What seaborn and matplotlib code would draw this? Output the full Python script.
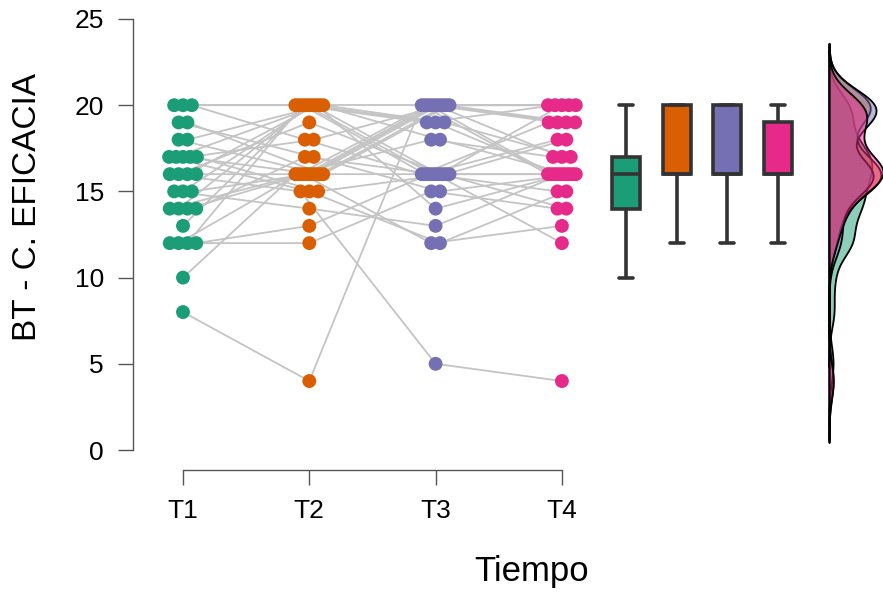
import numpy as np
import pandas as pd
import matplotlib
matplotlib.use("Agg")
import matplotlib.pyplot as plt
import seaborn as sns

# ---------------- data (one entry per subject) ----------------
times = ["T1", "T2", "T3", "T4"]
t1 = [8, 10, 16, 12, 20, 20, 20, 12, 12, 12, 13, 14, 14, 14, 14,
      15, 15, 15, 16, 16, 16, 17, 17, 17, 17, 17, 18, 18, 19, 19]
t2 = [4, 16, 15, 12, 20, 20, 18, 16, 20, 13, 20, 16, 20, 16, 17,
      14, 20, 16, 19, 20, 16, 15, 20, 16, 18, 15, 16, 20, 17, 16]
t3 = [20, 18, 5, 15, 20, 19, 16, 20, 16, 16, 16, 12, 19, 20, 16,
      13, 16, 20, 16, 14, 20, 12, 18, 16, 20, 16, 20, 19, 15, 20]
t4 = [16, 17, 4, 14, 20, 20, 19, 16, 18, 15, 16, 13, 16, 19, 12,
      16, 20, 17, 14, 16, 19, 15, 16, 18, 20, 16, 19, 17, 16, 20]
colors = ["#1b9e77", "#d95f02", "#7570b3", "#e7298a"]
y_label = "BT - C. EFICACIA"
x_label = "Tiempo"

series = [t1, t2, t3, t4]
rows = []
for ti, (name, vals) in enumerate(zip(times, series)):
    for s, v in enumerate(vals):
        rows.append({"subject": s, "time": name, "tpos": ti + 1, "value": v})
df = pd.DataFrame(rows)

# deterministic horizontal spread of identical values
def spread(g):
    k = len(g)
    half = min(0.11, 0.035 * (k - 1))
    offs = np.linspace(-half, half, k) if k > 1 else np.array([0.0])
    g = g.copy()
    g["xj"] = g["tpos"] + offs
    return g

df = df.groupby(["time", "value"], group_keys=False).apply(spread)
df = df.sort_values(["subject", "tpos"])

palette = dict(zip(times, colors))

sns.set_style("white")
plt.rcParams["font.family"] = ["Liberation Sans", "DejaVu Sans"]
plt.rcParams["text.color"] = "black"

W, H = 883, 593
fig = plt.figure(figsize=(W / 100, H / 100), dpi=100)
x0_px, x1_px = 133, 820
ytop_px, ybot_px = 19, 470
ax = fig.add_axes([x0_px / W, (H - ybot_px) / H, (x1_px - x0_px) / W, (ybot_px - ytop_px) / H])

ppu = 126.3
xlim = (1 - (183 - x0_px) / ppu, 1 + (x1_px - 183) / ppu)
ypu = (450 - 19) / 25
ylim = (-(ybot_px - 450) / ypu, 25)

# connecting lines
sns.lineplot(data=df, x="xj", y="value", units="subject", estimator=None,
             color="#c4c4c4", linewidth=1.3, sort=False, legend=False, ax=ax, zorder=1)
# points
sns.scatterplot(data=df, x="xj", y="value", hue="time", palette=palette, s=100,
                linewidth=0, legend=False, ax=ax, zorder=3)

# boxplots
box_pos = [4.51, 4.91, 5.31, 5.71]
bdf = df.copy()
bdf["bpos"] = bdf["tpos"].map(dict(zip(range(1, 5), box_pos)))
sns.boxplot(data=bdf, x="bpos", y="value", hue="time", palette=palette,
            native_scale=True, width=0.55, saturation=1, showfliers=False,
            linecolor="#333333", linewidth=2.6, dodge=False, legend=False, ax=ax)

ax.set_xlim(*xlim)
ax.set_ylim(*ylim)

for sp in ["top", "right"]:
    ax.spines[sp].set_visible(False)
for sp in ["left", "bottom"]:
    ax.spines[sp].set_color("#555555")
    ax.spines[sp].set_linewidth(1.0)
ax.spines["left"].set_bounds(0, 25)
ax.spines["bottom"].set_bounds(1, 4)

ax.set_xticks([1, 2, 3, 4])
ax.set_xticklabels(times)
ax.set_yticks([0, 5, 10, 15, 20, 25])
ax.set_yticklabels(["0", "5", "10", "15", "20", "25"])
ax.tick_params(axis="both", length=11, width=1.0, color="#555555",
               labelsize=19, labelcolor="black", pad=10, direction="out",
               left=True, bottom=True)
ax.set_xlabel("")
ax.set_ylabel("")

# densities on a side axes sharing the vertical scale
d0_px, d1_px = 829, 883
axd = fig.add_axes([d0_px / W, (H - ybot_px) / H, (d1_px - d0_px) / W, (ybot_px - ytop_px) / H])
for name, vals, c in zip(times, series, colors):
    sns.kdeplot(y=vals, ax=axd, fill=True, color=c, alpha=0.5, bw_adjust=0.62,
                cut=3.4, edgecolor="black", linewidth=1.3)
for coll in axd.collections:
    coll.set_edgecolor("black")
    coll.set_clip_on(False)
axd.set_ylim(*ylim)
axd.margins(x=0)
axd.set_xlim(left=0)
axd.axis("off")

fig.text(28 / W, 1 - 207 / H, y_label, rotation=90, ha="center", va="center",
         fontsize=24, color="black")
fig.text(532 / W, 1 - 572 / H, x_label, ha="center", va="center",
         fontsize=25, color="black")

fig.savefig("out.png", dpi=100)
